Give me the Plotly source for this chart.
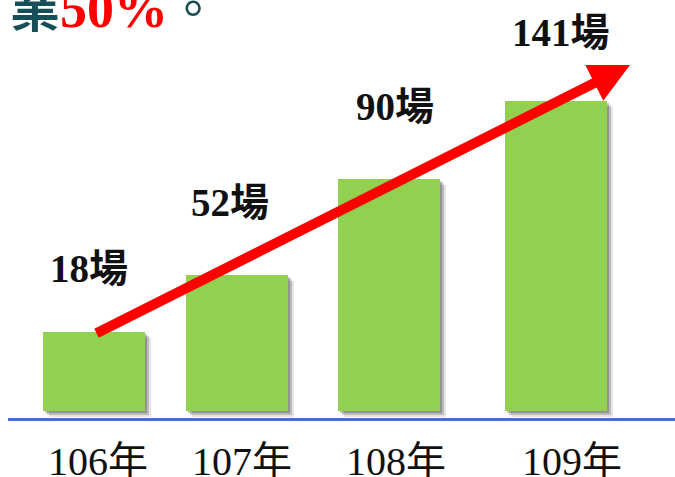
import plotly.graph_objects as go

# data
years = ["106年", "107年", "108年", "109年"]
sessions = [18, 52, 90, 141]
# drawn bar heights (the slide's bars are not to scale), in pixels
bar_heights = [79, 136, 232, 310]

# layout constants (pixel units, y measured up from the bar base)
W, H = 675, 477
base_px = 411
bar_x = [94, 237, 389, 556]
bar_w = 102
tick_x = [98, 242, 396, 572]
label_pos = [(89, 143), (230, 209), (395, 305), (561, 379)]

GREEN = "#92D050"
TEAL = "#174F58"
SERIF = "Liberation Serif, Times New Roman, Noto Sans CJK TC, serif"

fig = go.Figure()

# soft shadow behind bars
for off, alpha in [(6, 0.10), (4, 0.18), (2, 0.22)]:
    fig.add_trace(go.Bar(
        x=[x + off for x in bar_x], y=bar_heights, base=[-off] * 4,
        width=bar_w, marker=dict(color=f"rgba(0,0,0,{alpha})", line_width=0),
        hoverinfo="skip", showlegend=False,
    ))

fig.add_trace(go.Bar(
    x=bar_x, y=bar_heights, width=bar_w,
    marker=dict(color=GREEN, line_width=0),
    customdata=sessions, hovertemplate="%{customdata}場<extra></extra>",
    showlegend=False,
))

# value labels
for (lx, ly), v in zip(label_pos, sessions):
    fig.add_annotation(
        x=lx, y=ly, text=f"<b>{v}場</b>", showarrow=False,
        font=dict(family=SERIF, size=39, color="#111111"),
        xanchor="center", yanchor="middle",
    )

# red growth arrow
fig.add_annotation(
    x=630, y=base_px - 65, ax=95, ay=base_px - 334,
    xref="x", yref="y", axref="x", ayref="y",
    text="", showarrow=True, arrowhead=2, arrowsize=0.8,
    arrowwidth=10, arrowcolor="#FF0000", standoff=0, startstandoff=0,
)

# clipped heading at the top
fig.add_annotation(
    x=0, y=1, xref="paper", yref="paper", xanchor="left", yanchor="middle",
    yshift=-5, xshift=0, showarrow=False,
    text=("<span style='color:%s;font-family:Noto Sans CJK TC'><b>業</b></span>"
          "<span style='color:#FF0000;font-family:Liberation Serif;font-size:54px'><b>50%%</b></span>"
          "<span style='color:%s;font-family:Noto Sans CJK TC'>。</span>") % (TEAL, TEAL),
    font=dict(size=50, color=TEAL),
)

fig.update_layout(
    width=W, height=H,
    margin=dict(l=8, r=0, t=0, b=H - 418),
    paper_bgcolor="white", plot_bgcolor="white",
    barmode="overlay", bargap=0,
    xaxis=dict(
        range=[8, W], showgrid=False, zeroline=False,
        showline=True, linecolor="#4472C4", linewidth=3,
        tickvals=tick_x, ticktext=years, ticks="",
        ticklabelstandoff=6, automargin=False,
        tickfont=dict(family=SERIF, size=40, color="#111111"),
        fixedrange=True,
    ),
    yaxis=dict(range=[-7, base_px], visible=False, fixedrange=True,
               automargin=False),
)

fig.write_html(
    "out.html",
    config={"displayModeBar": False},
    post_script="document.body.style.margin='0px';",
)
